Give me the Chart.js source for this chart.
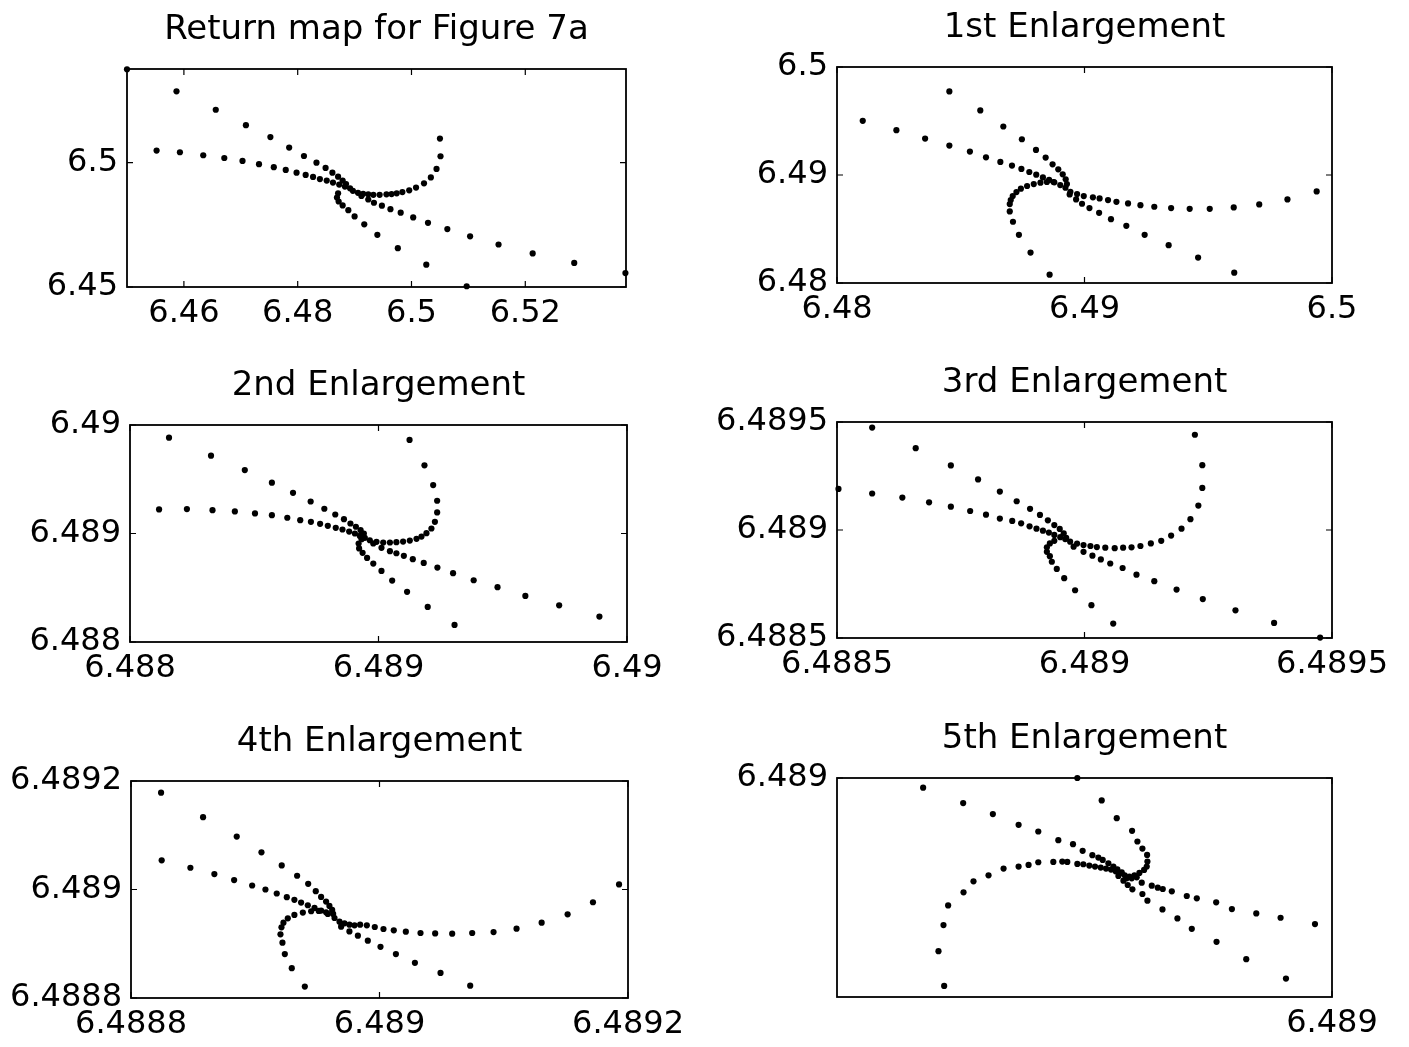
<!DOCTYPE html>
<html>
<head>
<meta charset="utf-8">
<title>Return map for Figure 7a</title>
<script src="https://cdn.jsdelivr.net/npm/chart.js@4.4.0/dist/chart.umd.min.js"></script>
<style>
  body { margin: 0; background: #fff; width: 1409px; height: 1047px; overflow: hidden; position: relative; }
  canvas { position: absolute; }
</style>
</head>
<body>
<canvas id="ret"></canvas>
<canvas id="enl1"></canvas>
<canvas id="enl2"></canvas>
<canvas id="enl3"></canvas>
<canvas id="enl4"></canvas>
<canvas id="enl5"></canvas>
<script>
// ---- data ----
const titles = ['Return map for Figure 7a', '1st Enlargement', '2nd Enlargement',
    '3rd Enlargement', '4th Enlargement', '5th Enlargement']

// Return map
const retX = [6.4500, 6.4587, 6.4656, 6.4709, 6.4752, 6.4785, 6.4811, 6.4833, 6.4849, 6.4861, 6.4871, 6.4879, 6.4885,
    6.4552, 6.4593, 6.4634, 6.4671, 6.4703, 6.4732, 6.4758, 6.4779, 6.4798, 6.4814, 6.4827, 6.4839, 6.4851, 6.4862, 6.4873, 6.4883, 6.4892,
    6.4897, 6.4906, 6.4915, 6.4924, 6.4933, 6.4944, 6.4956, 6.4965, 6.4974, 6.4984, 6.4996, 6.5008, 6.5022, 6.5034, 6.5044, 6.5051, 6.5050,
    6.4912, 6.4924, 6.4934, 6.4948, 6.4963, 6.4981, 6.5003, 6.5029, 6.5063, 6.5103, 6.5153, 6.5213, 6.5286, 6.5376,
    6.4871, 6.4869, 6.4872, 6.4879, 6.4889, 6.4900, 6.4917, 6.4940, 6.4976, 6.5026, 6.5097]
const retY = [6.5376, 6.5287, 6.5213, 6.5151, 6.5103, 6.5061, 6.5027, 6.5000, 6.4979, 6.4960, 6.4944, 6.4928, 6.4914,
    6.5049, 6.5042, 6.5030, 6.5019, 6.5007, 6.4994, 6.4982, 6.4971, 6.4960, 6.4951, 6.4943, 6.4934, 6.4928, 6.4920, 6.4912, 6.4904, 6.4897,
    6.4887, 6.4879, 6.4875, 6.4873, 6.4871, 6.4871, 6.4873, 6.4874, 6.4877, 6.4882, 6.4889, 6.4900, 6.4917, 6.4941, 6.4975, 6.5026, 6.5097,
    6.4866, 6.4852, 6.4839, 6.4827, 6.4813, 6.4799, 6.4780, 6.4758, 6.4733, 6.4704, 6.4671, 6.4635, 6.4597, 6.4556,
    6.4877, 6.4860, 6.4844, 6.4828, 6.4809, 6.4784, 6.4752, 6.4710, 6.4656, 6.4590, 6.4503]
const retLimits = [6.45, 6.5377]
const retTicksX = [6.46, 6.48, 6.5, 6.52]
const retLabelsX = ['6.46', '6.48', '6.5', '6.52']
const retTicksY = [6.45, 6.5]
const retLabelsY = ['6.45', '6.5']

// 1st enlargement
const enl1X = [6.48454, 6.48579, 6.48672, 6.48747, 6.48804, 6.48843, 6.48871, 6.48894, 6.48912, 6.48924, 6.48929,
    6.48104, 6.48240, 6.48356, 6.48454, 6.48537, 6.48602, 6.48660, 6.48707, 6.48745, 6.48777, 6.48805, 6.48832, 6.48857, 6.48878, 6.48902, 6.48923,
    6.48943, 6.48970, 6.48997, 6.49034, 6.49061, 6.49095, 6.49129, 6.49176, 6.49226, 6.49282, 6.49350, 6.49425, 6.49506, 6.49603, 6.49706, 6.49820, 6.49938,
    6.48940, 6.48966, 6.48990, 6.49020, 6.49059, 6.49107, 6.49169, 6.49243, 6.49340, 6.49459, 6.49605,
    6.48875, 6.48848, 6.48822, 6.48795, 6.48768, 6.48743, 6.48725, 6.48710, 6.48702, 6.48698, 6.48698, 6.48711, 6.48735, 6.48782, 6.48859]
const enl1Y = [6.49774, 6.49598, 6.49449, 6.49331, 6.49232, 6.49161, 6.49099, 6.49053, 6.49006, 6.48960, 6.48916,
    6.49502, 6.49415, 6.49337, 6.49272, 6.49217, 6.49164, 6.49121, 6.49087, 6.49056, 6.49028, 6.49003, 6.48978, 6.48954, 6.48932, 6.48907, 6.48882,
    6.48845, 6.48824, 6.48805, 6.48793, 6.48783, 6.48768, 6.48752, 6.48737, 6.48721, 6.48706, 6.48694, 6.48687, 6.48687, 6.48700, 6.48728, 6.48774, 6.48848,
    6.48820, 6.48774, 6.48734, 6.48694, 6.48650, 6.48591, 6.48529, 6.48446, 6.48350, 6.48235, 6.48096,
    6.48935, 6.48935, 6.48929, 6.48916, 6.48898, 6.48873, 6.48842, 6.48805, 6.48768, 6.48731, 6.48663, 6.48567, 6.48446, 6.48282, 6.48077]
const enl1Limits = [6.48, 6.5]
const enl1Ticks = [6.48, 6.49, 6.5]
const enl1Labels = ['6.48', '6.49', '6.5']

// 2nd enlargement
const enl2X = [6.488157, 6.488326, 6.488462, 6.488571, 6.488656, 6.488727, 6.488782, 6.488826, 6.488861, 6.488887, 6.488909, 6.488928, 6.488941,
    6.488117, 6.488229, 6.488332, 6.488422, 6.488503, 6.488571, 6.488633, 6.488685, 6.488728, 6.488765, 6.488796, 6.488828, 6.488855, 6.488882, 6.488905, 6.488925,
    6.488945, 6.488965, 6.488992, 6.489019, 6.489046, 6.489072, 6.489099, 6.489126, 6.489153, 6.489173, 6.489193, 6.489213, 6.489227, 6.489236, 6.489236, 6.489220, 6.489185, 6.489125,
    6.488979, 6.489012, 6.489046, 6.489072, 6.489102, 6.489138, 6.489182, 6.489237, 6.489300, 6.489383, 6.489479, 6.489591, 6.489727, 6.489889,
    6.488932, 6.488920, 6.488922, 6.488936, 6.488954, 6.488979, 6.489012, 6.489055, 6.489115, 6.489198, 6.489306]
const enl2Y = [6.489883, 6.489717, 6.489585, 6.489468, 6.489375, 6.489295, 6.489228, 6.489175, 6.489132, 6.489092, 6.489062, 6.489031, 6.489000,
    6.489222, 6.489225, 6.489215, 6.489203, 6.489185, 6.489169, 6.489145, 6.489123, 6.489108, 6.489089, 6.489071, 6.489052, 6.489037, 6.489018, 6.489000, 6.488978,
    6.488960, 6.488938, 6.488923, 6.488917, 6.488917, 6.488920, 6.488926, 6.488935, 6.488951, 6.488972, 6.489003, 6.489046, 6.489108, 6.489194, 6.489302, 6.489446, 6.489628, 6.489862,
    6.488908, 6.488868, 6.488837, 6.488818, 6.488794, 6.488763, 6.488729, 6.488686, 6.488634, 6.488569, 6.488505, 6.488425, 6.488338, 6.488234,
    6.488948, 6.488908, 6.488862, 6.488822, 6.488775, 6.488723, 6.488655, 6.488566, 6.488462, 6.488323, 6.488157]
const enl2Limits = [6.488, 6.49]
const enl2Ticks = [6.488, 6.489, 6.49]
const enl2Labels = ['6.488', '6.489', '6.49']

// 3rd enlargement
const enl3X = [6.488571, 6.488659, 6.488730, 6.488785, 6.488829, 6.488863, 6.488890, 6.488910, 6.488926, 6.488939, 6.488950, 6.488958, 6.488963,
    6.488503, 6.488571, 6.488632, 6.488686, 6.488730, 6.488769, 6.488801, 6.488829, 6.488854, 6.488872, 6.488889, 6.488903, 6.488916, 6.488928, 6.488939, 6.488951, 6.488961,
    6.488971, 6.488985, 6.488998, 6.489012, 6.489025, 6.489042, 6.489061, 6.489078, 6.489095, 6.489113, 6.489134, 6.489155, 6.489175, 6.489196, 6.489214, 6.489230, 6.489238, 6.489238, 6.489223,
    6.488978, 6.488998, 6.489016, 6.489033, 6.489052, 6.489077, 6.489105, 6.489141, 6.489186, 6.489239, 6.489305, 6.489383, 6.489476,
    6.488939, 6.488930, 6.488924, 6.488924, 6.488930, 6.488934, 6.488944, 6.488959, 6.488981, 6.489014, 6.489058]
const enl3Y = [6.489474, 6.489379, 6.489299, 6.489234, 6.489178, 6.489133, 6.489098, 6.489070, 6.489045, 6.489023, 6.489005, 6.488985, 6.488964,
    6.489190, 6.489169, 6.489150, 6.489128, 6.489108, 6.489088, 6.489071, 6.489053, 6.489042, 6.489031, 6.489017, 6.489006, 6.488997, 6.488988, 6.488977, 6.488967, 6.488958,
    6.488946, 6.488937, 6.488930, 6.488926, 6.488921, 6.488918, 6.488916, 6.488918, 6.488920, 6.488926, 6.488938, 6.488950, 6.488974, 6.489006, 6.489050, 6.489113, 6.489195, 6.489300, 6.489441,
    6.488923, 6.488899, 6.488881, 6.488864, 6.488845, 6.488824, 6.488793, 6.488763, 6.488724, 6.488680, 6.488628, 6.488570, 6.488502,
    6.488950, 6.488938, 6.488920, 6.488899, 6.488879, 6.488853, 6.488820, 6.488777, 6.488721, 6.488652, 6.488567]
const enl3Limits = [6.4885, 6.4895]
const enl3Ticks = [6.4885, 6.489, 6.4895]
const enl3Labels = ['6.4885', '6.489', '6.4895']

// 4th enlargement
const enl4X = [6.4888242, 6.4888580, 6.4888851, 6.4889050, 6.4889213, 6.4889337, 6.4889426, 6.4889487, 6.4889530, 6.4889570, 6.4889597, 6.4889619, 6.4889627,
    6.4888247, 6.4888478, 6.4888671, 6.4888830, 6.4888975, 6.4889082, 6.4889173, 6.4889254, 6.4889315, 6.4889369, 6.4889423, 6.4889477, 6.4889530, 6.4889584, 6.4889638, 6.4889678,
    6.4889718, 6.4889758, 6.4889799, 6.4889844, 6.4889898, 6.4889962, 6.4890032, 6.4890115, 6.4890212, 6.4890330, 6.4890448, 6.4890585, 6.4890746, 6.4890918, 6.4891103, 6.4891305, 6.4891514, 6.4891718, 6.4891928,
    6.4889691, 6.4889758, 6.4889826, 6.4889906, 6.4890008, 6.4890132, 6.4890285, 6.4890491, 6.4890730,
    6.4889570, 6.4889511, 6.4889450, 6.4889383, 6.4889315, 6.4889262, 6.4889227, 6.4889211, 6.4889203, 6.4889219, 6.4889238, 6.4889294, 6.4889399]
const enl4Y = [6.4891784, 6.4891333, 6.4890975, 6.4890685, 6.4890444, 6.4890253, 6.4890105, 6.4889969, 6.4889864, 6.4889778, 6.4889698, 6.4889623, 6.4889549,
    6.4890537, 6.4890401, 6.4890284, 6.4890173, 6.4890074, 6.4890000, 6.4889926, 6.4889858, 6.4889809, 6.4889759, 6.4889710, 6.4889660, 6.4889611, 6.4889549, 6.4889475, 6.4889407,
    6.4889377, 6.4889352, 6.4889340, 6.4889352, 6.4889340, 6.4889309, 6.4889272, 6.4889247, 6.4889222, 6.4889198, 6.4889191, 6.4889185, 6.4889198, 6.4889216, 6.4889278, 6.4889389, 6.4889543, 6.4889765, 6.4890093,
    6.4889315, 6.4889228, 6.4889148, 6.4889056, 6.4888944, 6.4888809, 6.4888648, 6.4888463, 6.4888228,
    6.4889580, 6.4889605, 6.4889599, 6.4889574, 6.4889531, 6.4889469, 6.4889389, 6.4889302, 6.4889173, 6.4889019, 6.4888809, 6.4888549, 6.4888210]
const enl4Limits = [6.4888, 6.4892]
const enl4Ticks = [6.4888, 6.489, 6.4892]
const enl4Labels = ['6.4888', '6.489', '6.4892']

// 5th enlargement
const enl5X = [6.48893392, 6.48894039, 6.48894519, 6.48894935, 6.48895253, 6.48895577, 6.48895814, 6.48895970, 6.48896127, 6.48896224, 6.48896294, 6.48896386, 6.48896467, 6.48896531, 6.48896602,
    6.48893732, 6.48893640, 6.48893721, 6.48893796, 6.48894045, 6.48894206, 6.48894449, 6.48894692, 6.48894935, 6.48895096, 6.48895253, 6.48895496, 6.48895641, 6.48895722, 6.48895884, 6.48895981, 6.48896078, 6.48896170, 6.48896262, 6.48896348, 6.48896429, 6.48896504, 6.48896575, 6.48896650,
    6.48896726, 6.48896807, 6.48896887, 6.48896963, 6.48897006, 6.48897017, 6.48897012, 6.48896936, 6.48896855, 6.48896769, 6.48896521, 6.48896278, 6.48895884,
    6.48896763, 6.48896925, 6.48897087, 6.48897184, 6.48897265, 6.48897411, 6.48897653, 6.48897815, 6.48898128, 6.48898382, 6.48898776, 6.48899169, 6.48899725,
    6.48896629, 6.48896699, 6.48896774, 6.48896936, 6.48897017, 6.48897260, 6.48897502, 6.48897734, 6.48898134, 6.48898614, 6.48899256,
    6.48896548, 6.48896682, 6.48896844]
const enl5Y = [6.48899646, 6.48899084, 6.48898681, 6.48898290, 6.48898046, 6.48897728, 6.48897582, 6.48897338, 6.48897179, 6.48897093, 6.48897008, 6.48896886, 6.48896763, 6.48896666, 6.48896556,
    6.48892403, 6.48893673, 6.48894626, 6.48895347, 6.48895823, 6.48896226, 6.48896446, 6.48896690, 6.48896763, 6.48896825, 6.48896922, 6.48896934, 6.48896947, 6.48896934, 6.48896861, 6.48896849, 6.48896800, 6.48896763, 6.48896727, 6.48896690, 6.48896654, 6.48896592, 6.48896519, 6.48896446,
    6.48896397, 6.48896446, 6.48896531, 6.48896641, 6.48896763, 6.48896947, 6.48897191, 6.48897423, 6.48897680, 6.48898070, 6.48898534, 6.48899182, 6.48900000,
    6.48896336, 6.48896177, 6.48896067, 6.48895994, 6.48895945, 6.48895860, 6.48895689, 6.48895603, 6.48895457, 6.48895212, 6.48895054, 6.48894895, 6.48894663,
    6.48896250, 6.48896092, 6.48895933, 6.48895762, 6.48895518, 6.48895200, 6.48894870, 6.48894492, 6.48894015, 6.48893380, 6.48892672,
    6.48896421, 6.48896336, 6.48896373]
const enl5Limits = [6.48892, 6.489]
const enl5Ticks = [6.489]
const enl5Labels = ['6.489']

// ---- layout (plot frame in page pixels) ----
const SIDE = 140      // room for y labels, mirrored on the right so titles stay centred
const TITLE_H = 66
const XAXIS_H = 60
const FONT = 'DejaVu Sans'

// MATLAB style box with inward tick marks on all four sides
const framePlugin = {
    id: 'frame',
    beforeDatasetsDraw(chart) {
        const {ctx, chartArea: a, scales} = chart
        ctx.save()
        ctx.strokeStyle = '#000'
        ctx.lineWidth = 1.8
        ctx.strokeRect(a.left, a.top, a.right - a.left, a.bottom - a.top)
        ctx.lineWidth = 1.2
        ctx.beginPath()
        scales.x.ticks.forEach(t => {
            const px = scales.x.getPixelForValue(t.value)
            ctx.moveTo(px, a.bottom); ctx.lineTo(px, a.bottom - 6)
            ctx.moveTo(px, a.top); ctx.lineTo(px, a.top + 6)
        })
        scales.y.ticks.forEach(t => {
            const py = scales.y.getPixelForValue(t.value)
            ctx.moveTo(a.left, py); ctx.lineTo(a.left + 6, py)
            ctx.moveTo(a.right, py); ctx.lineTo(a.right - 6, py)
        })
        ctx.stroke()
        ctx.restore()
    }
}

function axis(limits, ticks, labels, isX) {
    return {
        type: 'linear',
        min: limits[0],
        max: limits[1],
        grid: {display: false, drawTicks: false},
        border: {display: false},
        afterBuildTicks: s => { s.ticks = ticks.map(v => ({value: v})) },
        afterFit: s => { if (isX) s.height = XAXIS_H; else s.width = SIDE },
        ticks: {
            color: '#000',
            font: {family: FONT, size: 32},
            padding: isX ? 7 : 9,
            autoSkip: false,
            maxRotation: 0,
            callback: (v, i) => labels[i]
        }
    }
}

// empty axis on the right, only there to keep the plot centred under its title
const spacer = {
    position: 'right',
    grid: {display: false, drawTicks: false},
    border: {display: false},
    ticks: {display: false},
    afterFit: s => { s.width = SIDE }
}

function makePanel(id, box, title, xs, ys, limX, limY, ticksX, labelsX, ticksY, labelsY) {
    const canvas = document.getElementById(id)
    canvas.width = (box.right - box.left) + 2 * SIDE
    canvas.height = TITLE_H + (box.bottom - box.top) + XAXIS_H
    canvas.style.left = (box.left - SIDE) + 'px'
    canvas.style.top = (box.top - TITLE_H) + 'px'

    return new Chart(canvas, {
        type: 'scatter',
        data: {
            datasets: [{
                data: xs.map((x, i) => ({x: x, y: ys[i]})),
                backgroundColor: '#000',
                borderColor: '#000',
                pointRadius: 3.1,
                pointBorderWidth: 0,
                pointHoverRadius: 3.1,
                clip: false
            }]
        },
        options: {
            responsive: false,
            animation: false,
            events: [],
            layout: {padding: 0},
            plugins: {
                legend: {display: false},
                tooltip: {enabled: false},
                title: {
                    display: true,
                    text: title,
                    color: '#000',
                    font: {family: FONT, size: 34, weight: 'normal'},
                    padding: {top: 7, bottom: 18.2}
                }
            },
            scales: {
                x: axis(limX, ticksX, labelsX, true),
                y: axis(limY, ticksY, labelsY, false),
                y2: spacer
            }
        },
        plugins: [framePlugin]
    })
}

makePanel('ret', {left: 127, top: 69, right: 626, bottom: 287}, titles[0], retX, retY,
    retLimits, retLimits, retTicksX, retLabelsX, retTicksY, retLabelsY)
makePanel('enl1', {left: 837, top: 67, right: 1332, bottom: 283}, titles[1], enl1X, enl1Y,
    enl1Limits, enl1Limits, enl1Ticks, enl1Labels, enl1Ticks, enl1Labels)
makePanel('enl2', {left: 130, top: 425, right: 627, bottom: 642}, titles[2], enl2X, enl2Y,
    enl2Limits, enl2Limits, enl2Ticks, enl2Labels, enl2Ticks, enl2Labels)
makePanel('enl3', {left: 837, top: 422, right: 1332, bottom: 638}, titles[3], enl3X, enl3Y,
    enl3Limits, enl3Limits, enl3Ticks, enl3Labels, enl3Ticks, enl3Labels)
makePanel('enl4', {left: 131, top: 781, right: 628, bottom: 998}, titles[4], enl4X, enl4Y,
    enl4Limits, enl4Limits, enl4Ticks, enl4Labels, enl4Ticks, enl4Labels)
makePanel('enl5', {left: 837, top: 778, right: 1332, bottom: 997}, titles[5], enl5X, enl5Y,
    enl5Limits, enl5Limits, enl5Ticks, enl5Labels, enl5Ticks, enl5Labels)
</script>
</body>
</html>
